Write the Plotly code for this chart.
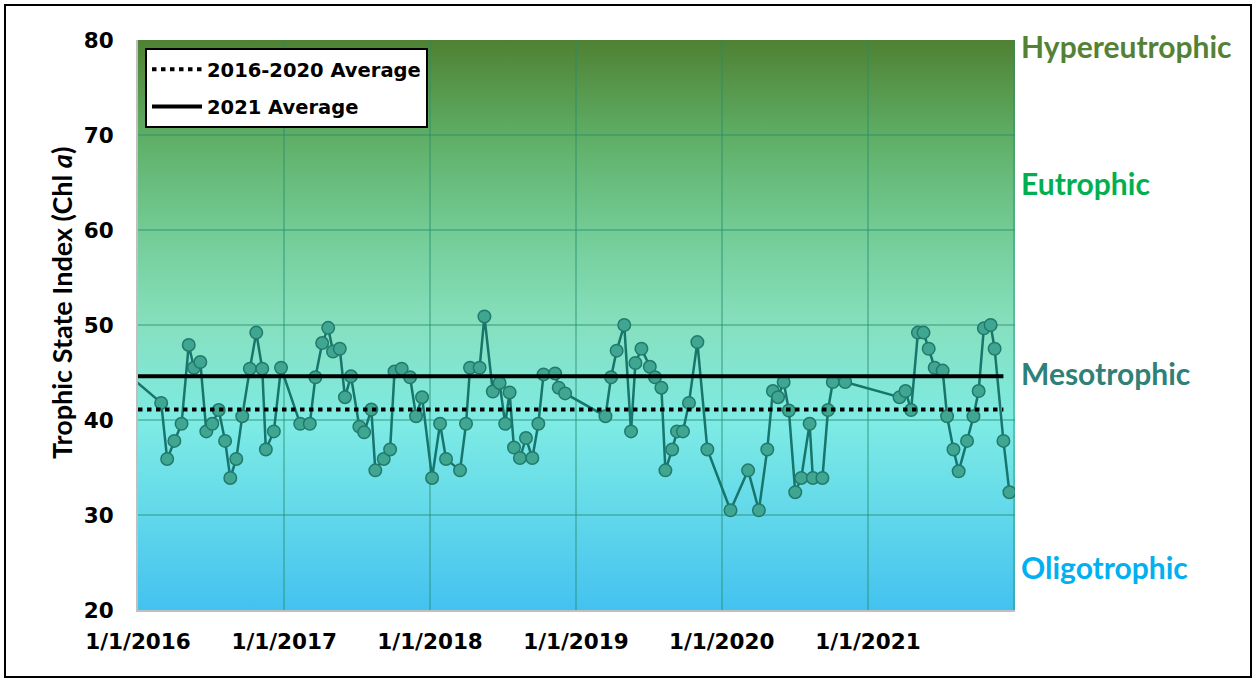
import base64
import plotly.graph_objects as go

# ---------------- data ----------------
dates = [
    "2015-12-01",
    "2016-02-28", "2016-03-14", "2016-04-01", "2016-04-19", "2016-05-07", "2016-05-20",
    "2016-06-05", "2016-06-20", "2016-07-05", "2016-07-21", "2016-08-06", "2016-08-19",
    "2016-09-03", "2016-09-18", "2016-10-07", "2016-10-23", "2016-11-07", "2016-11-16",
    "2016-12-06", "2016-12-24",
    "2017-02-10", "2017-03-06", "2017-03-20", "2017-04-06", "2017-04-21", "2017-05-03",
    "2017-05-20", "2017-06-02", "2017-06-17", "2017-07-08", "2017-07-20", "2017-08-07",
    "2017-08-17", "2017-09-07", "2017-09-23", "2017-10-04", "2017-10-22", "2017-11-12",
    "2017-11-27", "2017-12-12",
    "2018-01-06", "2018-01-26", "2018-02-10", "2018-03-17", "2018-04-01", "2018-04-11",
    "2018-05-05", "2018-05-17", "2018-06-07", "2018-06-24", "2018-07-08", "2018-07-19",
    "2018-07-30", "2018-08-14", "2018-08-29", "2018-09-14", "2018-09-29", "2018-10-12",
    "2018-11-10", "2018-11-19", "2018-12-05",
    "2019-03-16", "2019-03-30", "2019-04-13", "2019-05-02", "2019-05-19", "2019-05-30",
    "2019-06-14", "2019-07-05", "2019-07-18", "2019-08-03", "2019-08-13", "2019-08-30",
    "2019-09-11", "2019-09-26", "2019-10-11", "2019-11-01", "2019-11-26",
    "2020-01-23", "2020-03-07", "2020-04-03", "2020-04-24", "2020-05-08", "2020-05-21",
    "2020-06-04", "2020-06-17", "2020-07-03", "2020-07-18", "2020-08-08", "2020-08-16",
    "2020-09-09", "2020-09-23", "2020-10-05", "2020-11-05",
    "2021-03-21", "2021-04-05", "2021-04-19", "2021-05-06", "2021-05-20", "2021-06-02",
    "2021-06-17", "2021-07-07", "2021-07-18", "2021-08-03", "2021-08-16", "2021-09-06",
    "2021-09-22", "2021-10-05", "2021-10-18", "2021-11-04", "2021-11-14", "2021-12-06",
    "2021-12-21",
]
tsi = [
    45.0,
    41.8, 35.9, 37.8, 39.6, 47.9, 45.5,
    46.1, 38.8, 39.6, 41.05, 37.8, 33.9,
    35.9, 40.4, 45.4, 49.2, 45.4, 36.9,
    38.8, 45.5,
    39.6, 39.6, 44.5, 48.1, 49.7, 47.2,
    47.5, 42.4, 44.6, 39.3, 38.7, 41.1,
    34.7, 35.9, 36.9, 45.1, 45.4, 44.5,
    40.4, 42.4,
    33.9, 39.6, 35.9, 34.7, 39.6, 45.5,
    45.5, 50.9, 43.0, 43.9, 39.6, 42.9,
    37.1, 36.0, 38.1, 36.0, 39.6, 44.8,
    44.9, 43.4, 42.8,
    40.4, 44.5, 47.3, 50.0, 38.8, 46.0,
    47.5, 45.6, 44.5, 43.4, 34.7, 36.9,
    38.8, 38.8, 41.8, 48.2, 36.9,
    30.5, 34.7, 30.5, 36.9, 43.05, 42.4,
    44.0, 41.0, 32.4, 33.9, 39.6, 33.9,
    33.9, 41.05, 44.0, 44.0,
    42.4, 43.05, 41.05, 49.2, 49.2, 47.5,
    45.5, 45.2, 40.4, 36.9, 34.6, 37.8,
    40.4, 43.05, 49.65, 50.0, 47.5, 37.8,
    32.4,
]

avg_names = ["2016-2020 Average", "2021 Average"]
avg_values = [41.1, 44.6]
avg_span = ["2016-01-01", "2021-12-06"]

tick_dates = ["2016-01-01", "2017-01-01", "2018-01-01", "2019-01-01",
              "2020-01-01", "2021-01-01", "2022-01-01"]
tick_labels = ["1/1/2016", "1/1/2017", "1/1/2018", "1/1/2019",
               "1/1/2020", "1/1/2021", ""]
y_ticks = [20, 30, 40, 50, 60, 70, 80]

state_names = ["Hypereutrophic", "Eutrophic", "Mesotrophic", "Oligotrophic"]
state_levels = [79.4, 65.0, 44.9, 24.5]
state_colors = ["#548235", "#00b050", "#2f8077", "#00b0f0"]

y_title = "<b>Trophic State Index (Chl <i>a</i>)</b>"

# ---------------- styling ----------------
FONT = "Lato"
WIDE = "DejaVu Sans"
X_RANGE = ["2016-01-01", "2022-01-04"]
Y_RANGE = [20, 80]

svg = """<svg xmlns='http://www.w3.org/2000/svg' width='100' height='600' preserveAspectRatio='none' viewBox='0 0 100 600'>
<defs><linearGradient id='g' x1='0' y1='0' x2='0' y2='1'>
<stop offset='0' stop-color='#4f8133'/>
<stop offset='0.17' stop-color='#5fae66'/>
<stop offset='0.33' stop-color='#72cb94'/>
<stop offset='0.5' stop-color='#86e0be'/>
<stop offset='0.67' stop-color='#7eebe4'/>
<stop offset='0.83' stop-color='#62d8ea'/>
<stop offset='1' stop-color='#44c2f0'/>
</linearGradient></defs>
<rect x='0' y='0' width='100' height='600' fill='url(#g)'/></svg>"""
bg_src = "data:image/svg+xml;base64," + base64.b64encode(svg.encode()).decode()

fig = go.Figure()

fig.add_trace(go.Scatter(
    x=dates, y=tsi, mode="lines+markers", showlegend=False,
    line=dict(color="#17756b", width=2.5),
    marker=dict(size=12.5, color="#3ea691", line=dict(color="#237a6c", width=1.5)),
    hoverinfo="skip",
))

dash_styles = ["4.5px,4.5px", "solid"]
for i, (nm, v) in enumerate(zip(avg_names, avg_values)):
    fig.add_trace(go.Scatter(
        x=avg_span, y=[v, v], mode="lines", name=nm,
        legendgroup=nm,
        line=dict(color="black", width=4, dash=dash_styles[i]),
    ))

for nm, lv, col in zip(state_names, state_levels, state_colors):
    fig.add_annotation(
        x=1.005, xref="paper", y=lv, yref="y", text=f"<b>{nm}</b>",
        showarrow=False, xanchor="left", yanchor="middle",
        font=dict(family=FONT, size=30, color=col),
    )

L, R, T, B = 138, 1015, 40, 610
W, H = R - L, B - T

# y-axis title (placed like the reference, slightly above centre)
fig.add_annotation(
    x=(61 - L) / W, xref="paper", y=(B - 303) / H, yref="paper",
    text=y_title, textangle=-90, showarrow=False,
    xanchor="center", yanchor="middle",
    font=dict(family=FONT, size=27, color="black"),
)

fig.add_layout_image(dict(
    source=bg_src, xref="x domain", yref="y domain", x=0, y=1,
    sizex=1, sizey=1, xanchor="left", yanchor="top",
    sizing="stretch", layer="below",
))

# outer frame
fig.add_shape(type="rect", xref="paper", yref="paper",
              x0=(5 - L) / W, x1=(1251 - L) / W,
              y0=(B - 677) / H, y1=(B - 5) / H,
              line=dict(color="black", width=2), fillcolor="rgba(0,0,0,0)")

grid_col = "rgba(35,140,110,0.42)"
fig.update_layout(
    width=1257, height=680,
    margin=dict(l=L, r=1257 - R, t=T, b=680 - B),
    paper_bgcolor="white", plot_bgcolor="rgba(0,0,0,0)",
    font=dict(family=FONT, color="black"),
    showlegend=True,
    legend=dict(
        x=(145 - L) / W, y=(B - 48) / H, xanchor="left", yanchor="top",
        bgcolor="white", bordercolor="black", borderwidth=2,
        font=dict(family=WIDE, size=19.5, color="black", weight="bold"),
        traceorder="grouped", tracegroupgap=9, itemwidth=50,
    ),
    xaxis=dict(
        type="date", range=X_RANGE, tickvals=tick_dates, ticktext=tick_labels,
        showgrid=True, gridcolor=grid_col, gridwidth=2,
        showline=True, linecolor="#c0c0c0", linewidth=2,
        ticks="", tickfont=dict(family=WIDE, size=21.5, weight="bold"),
        ticklabelstandoff=11, zeroline=False,
    ),
    yaxis=dict(
        range=Y_RANGE, tickvals=y_ticks,
        showgrid=True, gridcolor=grid_col, gridwidth=2,
        showline=True, linecolor="#c0c0c0", linewidth=2,
        ticks="", tickfont=dict(family=WIDE, size=21.5, weight="bold"),
        ticklabelstandoff=18, zeroline=False,
    ),
)

fig.write_html("out.html", config={"displayModeBar": False},
               post_script="document.body.style.margin='0px';")
